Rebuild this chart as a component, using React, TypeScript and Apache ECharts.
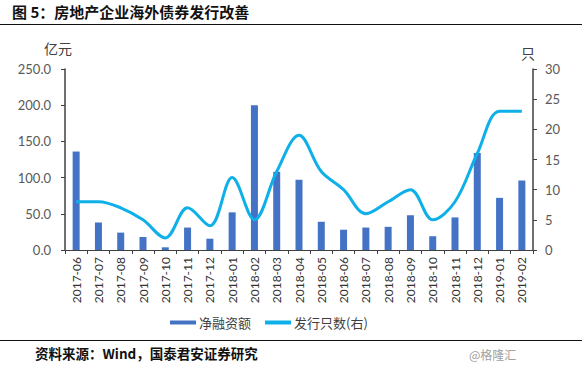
import React, { useEffect, useRef } from "react";
import * as echarts from "echarts";

const categories = [
  "2017-06", "2017-07", "2017-08", "2017-09", "2017-10", "2017-11", "2017-12",
  "2018-01", "2018-02", "2018-03", "2018-04", "2018-05", "2018-06", "2018-07",
  "2018-08", "2018-09", "2018-10", "2018-11", "2018-12", "2019-01", "2019-02",
];
const netFinancing = [136, 38, 24, 18, 3.7, 31, 15.6, 52, 200, 108, 97, 39, 28, 31, 32, 48, 19, 45, 134, 72, 96];
const issuanceCount = [8, 8, 7, 5, 2, 7, 4, 12, 5, 13, 19, 13, 10, 6, 8, 10, 5, 8, 16, 23, 23];
const leftTicks = { min: 0, max: 250, interval: 50 };
const rightTicks = { min: 0, max: 30, interval: 5 };

const seriesNames = ["净融资额", "发行只数(右)"];
const titleText = "图 5：房地产企业海外债券发行改善";
const sourceText = "资料来源：Wind，国泰君安证券研究";
const watermark = "@格隆汇";

const CJK = "'Noto Sans CJK SC', 'Noto Sans', sans-serif";
const NUM = "Lato, 'Noto Sans', sans-serif";

export default function App() {
  const ref = useRef<HTMLDivElement>(null);
  useEffect(() => {
    document.body.style.margin = "0";
    const chart = echarts.init(ref.current!, null, { renderer: "svg" });
    chart.setOption({
      animation: false,
      backgroundColor: "#ffffff",
      grid: { left: 65, right: 49, top: 69, bottom: 118, containLabel: false },
      legend: {
        left: 165,
        top: 311,
        itemGap: 14,
        itemWidth: 26,
        itemHeight: 4,
        textStyle: { fontFamily: CJK, fontSize: 13, color: "#404040", padding: [0, 0, 0, -2] },
        data: [
          { name: seriesNames[0], icon: "rect" },
          { name: seriesNames[1], icon: "rect" },
        ],
      },
      xAxis: {
        type: "category",
        data: categories,
        axisLine: { lineStyle: { color: "#404040", width: 1 } },
        axisTick: { show: true, length: 4, lineStyle: { color: "#404040" } },
        axisLabel: {
          rotate: 90,
          interval: 0,
          margin: 7,
          fontFamily: NUM,
          fontSize: 12,
          color: "#333333",
        },
      },
      yAxis: [
        {
          type: "value",
          ...leftTicks,
          position: "left",
          splitLine: { show: false },
          axisLine: { show: true, lineStyle: { color: "#404040", width: 1.5 } },
          axisTick: { show: true, length: 4, lineStyle: { color: "#404040" } },
          axisLabel: {
            margin: 14,
            fontFamily: NUM,
            fontSize: 13,
            color: "#595959",
            formatter: (v: number) => v.toFixed(1),
          },
        },
        {
          type: "value",
          ...rightTicks,
          position: "right",
          splitLine: { show: false },
          axisLine: { show: true, lineStyle: { color: "#404040", width: 1.5 } },
          axisTick: { show: true, length: 4, lineStyle: { color: "#404040" } },
          axisLabel: {
            margin: 12,
            fontFamily: NUM,
            fontSize: 13,
            color: "#595959",
          },
        },
      ],
      series: [
        {
          name: seriesNames[0],
          type: "bar",
          data: netFinancing,
          yAxisIndex: 0,
          barWidth: 7,
          itemStyle: { color: "#4472C4" },
        },
        {
          name: seriesNames[1],
          type: "line",
          data: issuanceCount,
          yAxisIndex: 1,
          smooth: 0.35,
          symbol: "none",
          lineStyle: { color: "#0FB0E8", width: 3 },
          itemStyle: { color: "#0FB0E8" },
        },
      ],
      graphic: [
        {
          type: "text",
          left: 12,
          top: 4,
          style: { text: titleText, font: `bold 15px ${CJK}`, fill: "#111111" },
        },
        {
          type: "line",
          shape: { x1: 0, y1: 24.5, x2: 582, y2: 24.5 },
          style: { stroke: "#111111", lineWidth: 1 },
        },
        {
          type: "text",
          left: 44,
          top: 41,
          style: { text: "亿元", font: `14px ${CJK}`, fill: "#404040" },
        },
        {
          type: "text",
          left: 521,
          top: 46,
          style: { text: "只", font: `14px ${CJK}`, fill: "#404040" },
        },
        {
          type: "line",
          shape: { x1: 0, y1: 340.5, x2: 582, y2: 340.5 },
          style: { stroke: "#111111", lineWidth: 1 },
        },
        {
          type: "text",
          left: 35,
          top: 346,
          style: { text: sourceText, font: `bold 13.5px ${CJK}`, fill: "#111111" },
        },
        {
          type: "text",
          left: 469,
          top: 348,
          style: { text: watermark, font: `12px ${CJK}`, fill: "#a0a0a0" },
        },
      ],
    });
    return () => chart.dispose();
  }, []);
  return <div ref={ref} style={{ width: 582, height: 368 }} />;
}
